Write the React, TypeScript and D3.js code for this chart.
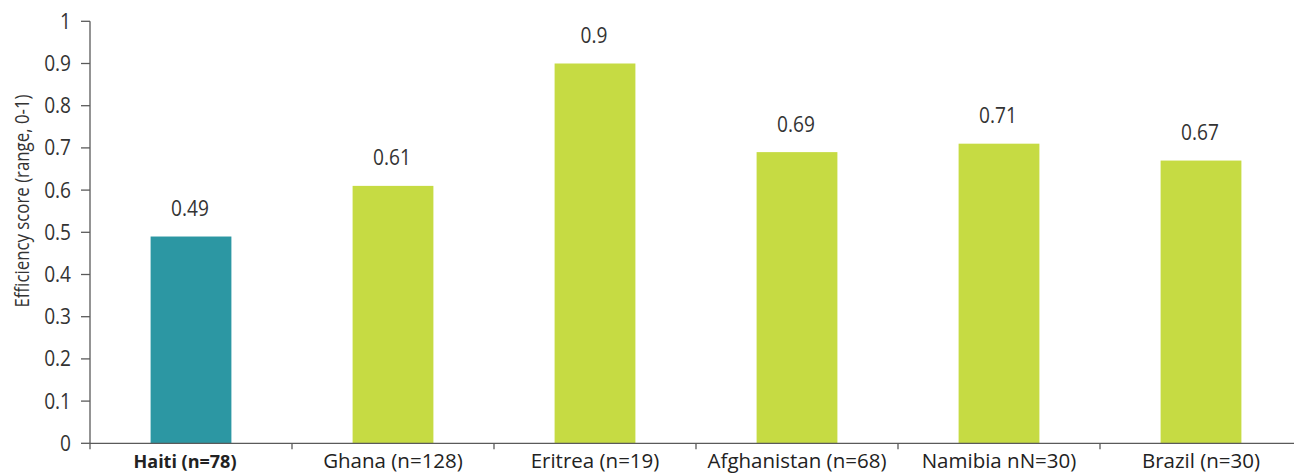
import React from "react";
import * as d3 from "d3";

const categories = ["Haiti (n=78)", "Ghana (n=128)", "Eritrea (n=19)", "Afghanistan (n=68)", "Namibia nN=30)", "Brazil (n=30)"];
const values = [0.49, 0.61, 0.9, 0.69, 0.71, 0.67];
const valueLabels = ["0.49", "0.61", "0.9", "0.69", "0.71", "0.67"];
const yTicks = [0, 0.1, 0.2, 0.3, 0.4, 0.5, 0.6, 0.7, 0.8, 0.9, 1];
const yTickLabels = ["0", "0.1", "0.2", "0.3", "0.4", "0.5", "0.6", "0.7", "0.8", "0.9", "1"];
const highlight = "Haiti (n=78)";

const W = 1294, H = 474;
const x0 = 90, y0 = 443.3, yTop = 21.3;

export default function App() {
  const x = d3.scaleBand<string>().domain(categories).range([x0, x0 + 6 * 202]).paddingInner(0.6).paddingOuter(0.3);
  const y = d3.scaleLinear().domain([0, 1]).range([y0, yTop]);
  const font = "'Open Sans', 'Noto Sans', sans-serif";
  const axisColor = "#5a5a5a";
  const boundaries = d3.range(categories.length).map((i) => x0 + i * x.step());
  return (
    <svg width={W} height={H} style={{ position: "absolute", left: 0, top: 0 }} fontFamily={font}>
      {/* y axis */}
      <line x1={x0} x2={x0} y1={yTop} y2={y0} stroke={axisColor} strokeWidth={1.3} />
      {yTicks.map((t, i) => (
        <g key={t}>
          <line x1={x0 - 9} x2={x0} y1={y(t)} y2={y(t)} stroke={axisColor} strokeWidth={1.3} />
          <text transform={`translate(71, ${y(t)}) scale(0.91, 1)`} dy="0.36em" textAnchor="end" fontSize={21} fill="#333">{yTickLabels[i]}</text>
        </g>
      ))}
      <text transform={`translate(29, 201) rotate(-90)`} textAnchor="middle" fontSize={20} fill="#333" textLength={213} lengthAdjust="spacingAndGlyphs">
        Efficiency score (range, 0-1)
      </text>
      {/* bars */}
      {categories.map((c, i) => {
        const cx = (x(c) as number) + x.bandwidth() / 2;
        return (
          <g key={c}>
            <rect x={x(c)} y={y(values[i])} width={x.bandwidth()} height={y0 - y(values[i])} fill={c === highlight ? "#2C97A3" : "#C6DB43"} />
            <text transform={`translate(${cx - 1}, ${y(values[i]) - 20.5}) scale(0.91, 1)`} textAnchor="middle" fontSize={21} fill="#333">{valueLabels[i]}</text>
            <text x={cx - (c === highlight ? 6 : 0)} y={468} textAnchor="middle" fontSize={c === highlight ? 18 : 20.5} fill="#222" fontWeight={c === highlight ? "bold" : "normal"}>{c}</text>
          </g>
        );
      })}
      {/* x axis */}
      <line x1={x0} x2={W} y1={y0} y2={y0} stroke={axisColor} strokeWidth={1.3} />
      {boundaries.map((b) => (
        <line key={b} x1={b} x2={b} y1={y0} y2={y0 + 6} stroke={axisColor} strokeWidth={1.3} />
      ))}
    </svg>
  );
}
